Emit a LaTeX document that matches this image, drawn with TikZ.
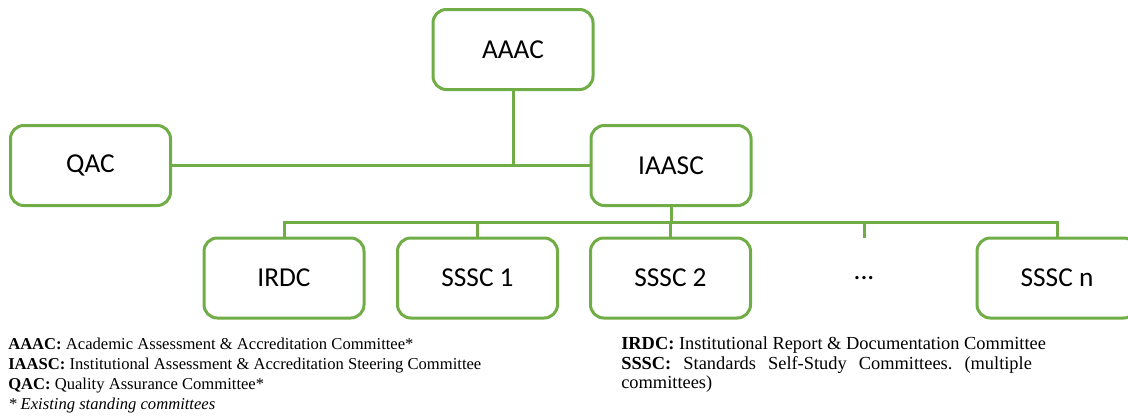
\documentclass[tikz,border=0pt]{standalone}
\usepackage{fontspec}
\setmainfont{Liberation Serif}
\newfontfamily\boxfont{Carlito}
\definecolor{orggreen}{HTML}{70AD47}
\begin{document}
\begin{tikzpicture}[x=0.75pt,y=-0.75pt,
  unit/.style={draw=orggreen, line width=2.25pt, rounded corners=10pt, fill=white,
    minimum width=120pt, minimum height=60pt, inner sep=0pt,
    font=\boxfont\fontsize{20.5}{24}\selectfont},
  gap/.style={minimum width=120pt, minimum height=60pt, inner sep=0pt,
    font=\boxfont\fontsize{20.5}{24}\selectfont},
  link/.style={draw=orggreen, line width=2.25pt},
  key/.style={anchor=base west, inner sep=0pt, font=\fontsize{12.45}{14.8}\selectfont},
  keyr/.style={anchor=base west, inner sep=0pt, font=\fontsize{13.8}{14.8}\selectfont}]
\useasboundingbox (0,0) rectangle (1128,418);

% committee boxes
\node[unit] (aaac)  at (513,49.5)  {AAAC};
\node[unit] (qac)   at (90.5,165.5) {QAC};
\node[unit] (iaasc) at (671,165.5) {IAASC};
\node[unit] (irdc)  at (284,278)   {IRDC};
\node[unit] (s1)    at (477.5,278) {SSSC 1};
\node[unit] (s2)    at (670.5,278) {SSSC 2};
\node[gap]  (more)  at (864,278)   {...};
\node[unit] (sn)    at (1057,278)  {SSSC n};

% reporting lines
\draw[link] (qac.east) -- (iaasc.west);
\draw[link] (aaac.south) -- (aaac.south |- qac.east);
\coordinate (bus) at (671,222);
\draw[link] (iaasc.south) -- (bus);
\draw[link] (irdc.north) |- (bus) -| (sn.north);
\draw[link] (s1.north) -- (s1.north |- bus);
\draw[link] (s2.north) -- (s2.north |- bus);
\draw[link] (more.north) -- (more.north |- bus);

% abbreviations
\node[key] (k1) at (8,349) {\textbf{AAAC:} Academic Assessment \& Accreditation Committee*};
\node[key] (k2) at (8,369) {\textbf{IAASC:} Institutional Assessment \& Accreditation Steering Committee};
\node[key] (k3) at (8,389) {\textbf{QAC:} Quality Assurance Committee*};
\node[key] (k4) at (8,409) {\textit{* Existing standing committees}};
\node[keyr] (k5) at (621,349) {\textbf{IRDC:} Institutional Report \& Documentation Committee};
\node[keyr] (k6) at (621,369) {\hbox to 308pt{\textbf{SSSC:}\hfill Standards\hfill Self-Study\hfill Committees.\hfill (multiple}};
\node[keyr] (k7) at (621,388) {committees)};
\end{tikzpicture}
\end{document}
